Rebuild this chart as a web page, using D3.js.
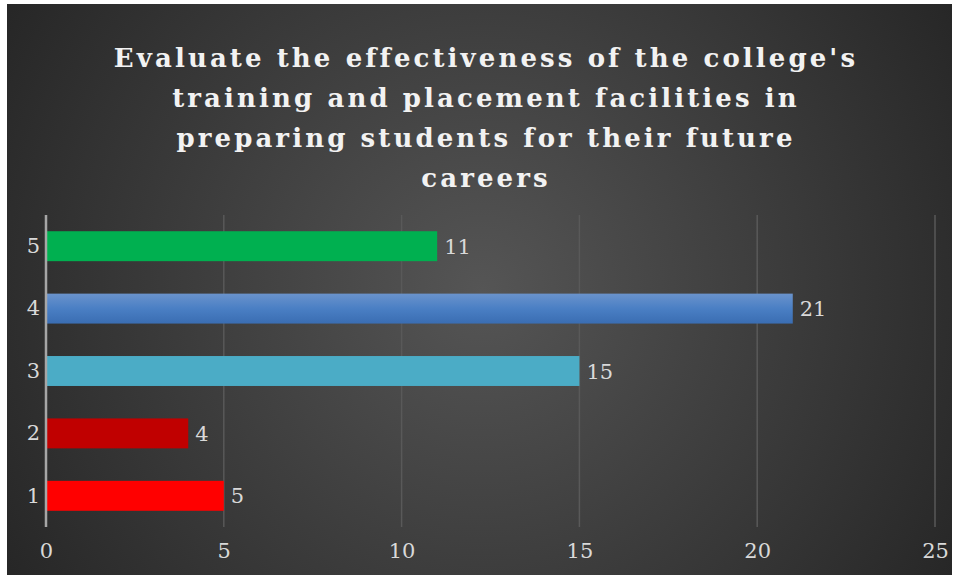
<!DOCTYPE html>
<html>
<meta charset="utf-8" />
<head>
<title>Training and placement facilities</title>
<style>
body { margin: 0; background: #ffffff; }
svg { display: block; }
svg text { font-family: "DejaVu Serif", serif; }
</style>
<script src="https://cdn.jsdelivr.net/npm/d3@7/dist/d3.min.js"></script>
</head>
<body>
<svg class="chart"></svg>

<script>
var chartWidth = 956;
var chartHeight = 578;

/********
 * Data *
 ********/

var titleLines = [
  "Evaluate the effectiveness of the college's",
  "training and placement facilities in",
  "preparing students for their future",
  "careers"
];
var categories = ["1", "2", "3", "4", "5"];
var values = [5, 4, 15, 21, 11];
var xTicks = [0, 5, 10, 15, 20, 25];
var barColors = ["#ff0000", "#c00000", "#4bacc6", "url(#blueGrad)", "#00b050"];

/**************
 * Make Chart *
 **************/

var svg = d3.select(".chart")
    .attr("width", chartWidth)
    .attr("height", chartHeight);

var defs = svg.append("defs");

var bg = defs.append("radialGradient")
    .attr("id", "bgGrad")
    .attr("gradientUnits", "userSpaceOnUse")
    .attr("cx", 482).attr("cy", 290).attr("r", 560);
bg.append("stop").attr("offset", "0%").attr("stop-color", "#555555");
bg.append("stop").attr("offset", "100%").attr("stop-color", "#262626");

var blue = defs.append("linearGradient")
    .attr("id", "blueGrad")
    .attr("x1", 0).attr("y1", 0).attr("x2", 0).attr("y2", 1);
blue.append("stop").attr("offset", "0%").attr("stop-color", "#6a93cc");
blue.append("stop").attr("offset", "50%").attr("stop-color", "#4a7fc4");
blue.append("stop").attr("offset", "100%").attr("stop-color", "#3a6db2");

// chart area (white frame around it)
svg.append("rect")
    .attr("x", 7).attr("y", 4)
    .attr("width", 945).attr("height", 571)
    .attr("fill", "url(#bgGrad)");

// title
svg.append("g").selectAll("text")
    .data(titleLines)
  .enter().append("text")
    .attr("x", 486)
    .attr("y", function(d, i) { return 67 + i * 40; })
    .attr("text-anchor", "middle")
    .attr("fill", "#f2f2f2")
    .style("font-size", "26px")
    .style("font-weight", "bold")
    .style("letter-spacing", "3.1px")
    .text(function(d) { return d; });

// scales
var x = d3.scaleLinear()
    .domain([0, 25])
    .range([46, 935]);

var y = d3.scaleBand()
    .domain(categories)
    .range([527, 215])
    .paddingInner(0.52)
    .paddingOuter(0.26);

// gridlines
svg.append("g").selectAll("line")
    .data(xTicks.slice(1))
  .enter().append("line")
    .attr("x1", function(d) { return x(d); })
    .attr("x2", function(d) { return x(d); })
    .attr("y1", 215).attr("y2", 527)
    .attr("stroke", "#595959")
    .attr("stroke-width", 1.5);

// bars
svg.append("g").selectAll("rect")
    .data(values)
  .enter().append("rect")
    .attr("x", x(0))
    .attr("y", function(d, i) { return y(categories[i]); })
    .attr("width", function(d) { return x(d) - x(0); })
    .attr("height", y.bandwidth())
    .attr("fill", function(d, i) { return barColors[i]; });

// value labels
svg.append("g").selectAll("text")
    .data(values)
  .enter().append("text")
    .attr("x", function(d) { return x(d) + 7; })
    .attr("y", function(d, i) { return y(categories[i]) + y.bandwidth() / 2; })
    .attr("dy", "0.36em")
    .attr("fill", "#d9d9d9")
    .style("font-size", "21px")
    .text(function(d) { return d; });

// y axis
var yAxis = d3.axisLeft(y).tickSize(0).tickPadding(6);
var yAxisGroup = svg.append("g")
    .attr("transform", "translate(" + x(0) + ",0)")
    .call(yAxis);
yAxisGroup.select(".domain")
    .attr("stroke", "#a6a6a6")
    .attr("stroke-width", 2.5)
    .attr("d", "M0,215V527");
yAxisGroup.selectAll("text")
    .attr("fill", "#d9d9d9")
    .style("font-size", "21px")
    .style("font-family", "DejaVu Serif, serif");

// x axis
var xAxis = d3.axisBottom(x).tickValues(xTicks).tickSize(0).tickPadding(16);
var xAxisGroup = svg.append("g")
    .attr("transform", "translate(0,527)")
    .call(xAxis);
xAxisGroup.select(".domain").remove();
xAxisGroup.selectAll("text")
    .attr("fill", "#d9d9d9")
    .style("font-size", "21px")
    .style("font-family", "DejaVu Serif, serif");
</script>
</body>
</html>
